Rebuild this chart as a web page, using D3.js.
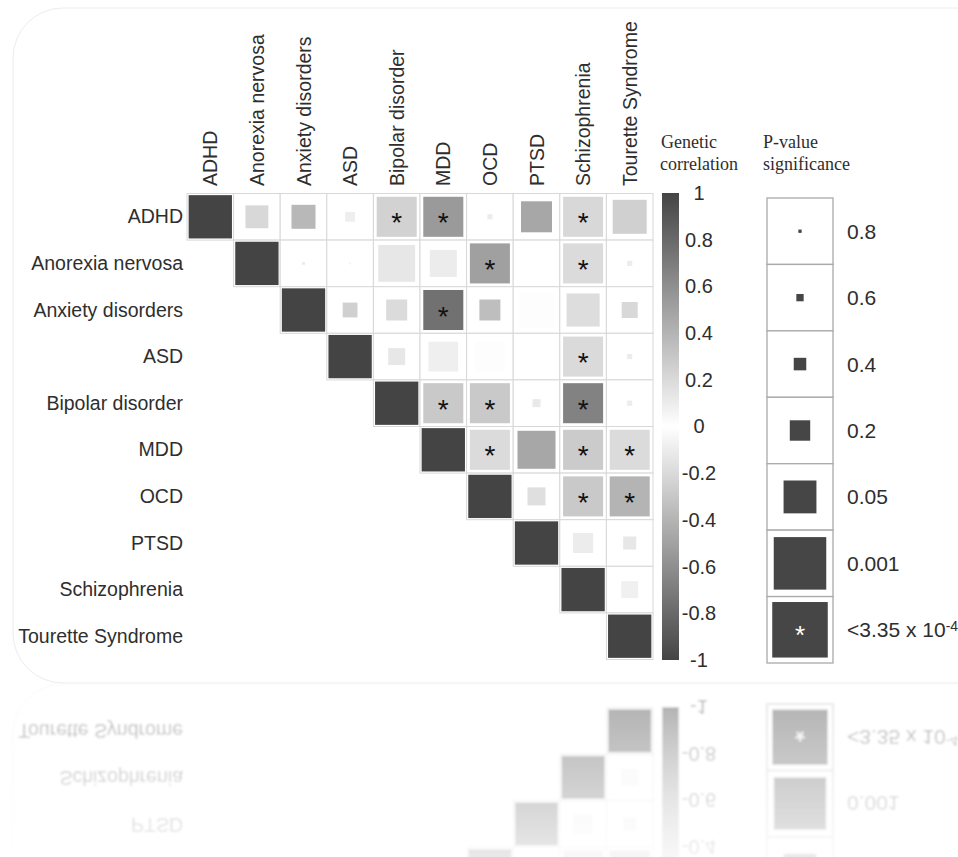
<!DOCTYPE html>
<html>
<head>
<meta charset="utf-8">
<script src="https://cdn.jsdelivr.net/npm/d3@7"></script>
<style>
  body { margin: 0; background: #fff; }
  svg { display: block; }
</style>
</head>
<body>
<div id="svg-area"></div>
<script>
var svgWidth = 958;
var svgHeight = 857;

// disorders, same order for rows and columns
var disorders = ["ADHD", "Anorexia nervosa", "Anxiety disorders", "ASD", "Bipolar disorder",
  "MDD", "OCD", "PTSD", "Schizophrenia", "Tourette Syndrome"];

// genetic correlation (upper triangle only)
var rgRows = [
  [1, 0.21, 0.38, 0.09, 0.24, 0.54, 0.10, 0.47, 0.21, 0.25],
  [null, 1, 0.10, 0.05, 0.13, 0.10, 0.51, 0.00, 0.19, 0.10],
  [null, null, 1, 0.25, 0.19, 0.76, 0.35, 0.01, 0.18, 0.21],
  [null, null, null, 1, 0.13, 0.085, 0.01, 0.00, 0.20, 0.10],
  [null, null, null, null, 1, 0.29, 0.29, 0.12, 0.67, 0.10],
  [null, null, null, null, null, 1, 0.19, 0.47, 0.28, 0.19],
  [null, null, null, null, null, null, 1, 0.17, 0.29, 0.40],
  [null, null, null, null, null, null, null, 1, 0.10, 0.13],
  [null, null, null, null, null, null, null, null, 1, 0.08],
  [null, null, null, null, null, null, null, null, null, 1]
];

// p-values of the correlations
var pRows = [
  [1e-5, 0.053, 0.043, 0.36, 2e-4, 2e-4, 0.60, 0.0086, 2e-4, 0.0034],
  [null, 1e-5, 0.75, 0.8, 0.0011, 0.023, 2e-4, 0.99, 2e-4, 0.6],
  [null, null, 1e-5, 0.19, 0.074, 2e-4, 0.074, 0.002, 0.0046, 0.16],
  [null, null, null, 1e-5, 0.14, 0.012, 0.01, 0.95, 2e-4, 0.6],
  [null, null, null, null, 1e-5, 2e-4, 2e-4, 0.44, 2e-4, 0.6],
  [null, null, null, null, null, 1e-5, 2e-4, 6.5e-4, 2e-4, 2e-4],
  [null, null, null, null, null, null, 1e-5, 0.12, 2e-4, 2e-4],
  [null, null, null, null, null, null, null, 1e-5, 0.087, 0.24],
  [null, null, null, null, null, null, null, null, 1e-5, 0.14],
  [null, null, null, null, null, null, null, null, null, 1e-5]
];

var starThreshold = 3.35e-4;

// colour bar ticks
var cbTicks = [1, 0.8, 0.6, 0.4, 0.2, 0, -0.2, -0.4, -0.6, -0.8, -1];

// p-value legend
var pLegend = [0.8, 0.6, 0.4, 0.2, 0.05, 0.001, 3.35e-4];
var pLegendLabels = ["0.8", "0.6", "0.4", "0.2", "0.05", "0.001", "<3.35 x 10"];

var textColor = "#2e2e2e";
var font = "'Liberation Sans', Arial, sans-serif";

var svg = d3.select("#svg-area").append("svg")
  .attr("width", svgWidth)
  .attr("height", svgHeight);

var defs = svg.append("defs");

// scales
var xScale = d3.scaleBand().domain(disorders).range([187, 653]);
var yScale = d3.scaleBand().domain(disorders).range([193.5, 659.5]);

var colorScale = d3.scaleLinear()
  .domain([-1, 0, 1])
  .range(["#444444", "#ffffff", "#444444"]);

// square side as a fraction of the box, from p-value
var sizeScale = d3.scalePow().exponent(0.23).domain([0, 1]).range([1, 0]);

var main = svg.append("g").attr("id", "main");

// card
main.append("rect")
  .attr("x", 13).attr("y", 8)
  .attr("width", 1000).attr("height", 675)
  .attr("rx", 50)
  .attr("fill", "#fff")
  .attr("stroke", "#ececec");

// cells
var cells = [];
rgRows.forEach(function(row, i) {
  row.forEach(function(r, j) {
    if (r === null) return;
    cells.push({ row: disorders[i], col: disorders[j], i: i, j: j, r: r, p: pRows[i][j] });
  });
});

var bw = xScale.bandwidth();

var cellG = main.append("g");

cellG.selectAll("rect.bg")
  .data(cells)
  .enter()
  .append("rect")
  .attr("class", "bg")
  .attr("x", function(d) { return xScale(d.col); })
  .attr("y", function(d) { return yScale(d.row); })
  .attr("width", bw)
  .attr("height", yScale.bandwidth())
  .attr("fill", "#fff")
  .attr("stroke", "#d8d8d8")
  .attr("stroke-width", 1);

cellG.selectAll("rect.sq")
  .data(cells)
  .enter()
  .append("rect")
  .attr("class", "sq")
  .each(function(d) {
    var s = bw * sizeScale(d.p);
    d3.select(this)
      .attr("x", xScale(d.col) + bw / 2 - s / 2)
      .attr("y", yScale(d.row) + yScale.bandwidth() / 2 - s / 2)
      .attr("width", s)
      .attr("height", s);
  })
  .attr("fill", function(d) { return colorScale(d.r); });

cellG.selectAll("text.star")
  .data(cells.filter(function(d) { return d.i !== d.j && d.p < starThreshold; }))
  .enter()
  .append("text")
  .attr("class", "star")
  .attr("x", function(d) { return xScale(d.col) + bw / 2; })
  .attr("y", function(d) { return yScale(d.row) + yScale.bandwidth() / 2; })
  .attr("dy", "0.56em")
  .attr("text-anchor", "middle")
  .style("font", "28px " + font)
  .style("fill", "#111")
  .text("*");

// row labels
main.append("g").selectAll("text")
  .data(disorders)
  .enter()
  .append("text")
  .attr("x", 183)
  .attr("y", function(d) { return yScale(d) + yScale.bandwidth() / 2 + 6.5; })
  .attr("text-anchor", "end")
  .style("font", "19.5px " + font)
  .style("fill", textColor)
  .text(function(d) { return d; });

// column labels
main.append("g").selectAll("text")
  .data(disorders)
  .enter()
  .append("text")
  .attr("transform", function(d) {
    return "translate(" + (xScale(d) + bw / 2 + 7) + ",186) rotate(-90)";
  })
  .attr("text-anchor", "start")
  .style("font", "19.5px " + font)
  .style("fill", textColor)
  .text(function(d) { return d; });

// colour bar
var cbScale = d3.scaleLinear().domain([1, -1]).range([193, 660]);

var grad = defs.append("linearGradient")
  .attr("id", "cbGrad")
  .attr("x1", 0).attr("y1", 0).attr("x2", 0).attr("y2", 1);

d3.range(1, -1.001, -0.1).forEach(function(v) {
  grad.append("stop")
    .attr("offset", (1 - v) / 2)
    .attr("stop-color", colorScale(v));
});

main.append("rect")
  .attr("x", 662).attr("y", cbScale(1))
  .attr("width", 17)
  .attr("height", cbScale(-1) - cbScale(1))
  .attr("fill", "url(#cbGrad)");

var cbAxis = d3.axisRight(cbScale)
  .tickValues(cbTicks)
  .tickSize(0)
  .tickFormat(function(d) { return String(d); });

var cbAxisG = main.append("g")
  .attr("transform", "translate(679,0)")
  .call(cbAxis);

cbAxisG.select(".domain").remove();
cbAxisG.selectAll("text")
  .attr("x", 20)
  .attr("text-anchor", "middle")
  .style("font", "20px " + font)
  .style("fill", textColor);

// legend titles
var titleFont = "18px 'Liberation Serif', 'Times New Roman', serif";
[["Genetic", 661, 148], ["correlation", 660, 170], ["P-value", 763, 148], ["significance", 763, 170]]
  .forEach(function(t) {
    main.append("text")
      .attr("x", t[1]).attr("y", t[2])
      .style("font", titleFont)
      .style("fill", textColor)
      .text(t[0]);
  });

// p-value legend
var legY = d3.scaleBand().domain(d3.range(pLegend.length)).range([198, 663]);
var legX = 767;
var legW = 66;

var legItems = main.append("g").selectAll("g")
  .data(pLegend)
  .enter()
  .append("g")
  .attr("transform", function(d, i) { return "translate(" + legX + "," + legY(i) + ")"; });

legItems.append("rect")
  .attr("width", legW)
  .attr("height", legY.bandwidth())
  .attr("fill", "#fff")
  .attr("stroke", "#aaaaaa")
  .attr("stroke-width", 1.3);

legItems.append("rect")
  .each(function(d) {
    var s = legW * sizeScale(d);
    d3.select(this)
      .attr("x", legW / 2 - s / 2)
      .attr("y", legY.bandwidth() / 2 - s / 2)
      .attr("width", s)
      .attr("height", s);
  })
  .attr("fill", "#464646");

legItems.filter(function(d) { return d <= starThreshold; })
  .append("text")
  .attr("x", legW / 2)
  .attr("y", legY.bandwidth() / 2)
  .attr("dy", "0.56em")
  .attr("text-anchor", "middle")
  .style("font", "26px " + font)
  .style("fill", "#fff")
  .text("*");

var legText = legItems.append("text")
  .attr("x", 847 - legX)
  .attr("y", legY.bandwidth() / 2)
  .attr("dy", "0.36em")
  .style("font", "21px " + font)
  .style("fill", textColor)
  .text(function(d, i) { return pLegendLabels[i]; });

legText.filter(function(d) { return d <= starThreshold; })
  .append("tspan")
  .attr("dy", "-0.45em")
  .style("font-size", "14px")
  .text("-4");

// mirrored reflection below the card
var fade = defs.append("linearGradient")
  .attr("id", "fadeGrad")
  .attr("gradientUnits", "userSpaceOnUse")
  .attr("x1", 0).attr("y1", 683).attr("x2", 0).attr("y2", 857);
fade.append("stop").attr("offset", 0).attr("stop-color", "#fff").attr("stop-opacity", 0.45);
fade.append("stop").attr("offset", 1).attr("stop-color", "#fff").attr("stop-opacity", 0.12);

defs.append("mask")
  .attr("id", "fadeMask")
  .attr("maskUnits", "userSpaceOnUse")
  .attr("x", 0).attr("y", 683).attr("width", svgWidth).attr("height", 200)
  .append("rect")
  .attr("x", 0).attr("y", 683).attr("width", svgWidth).attr("height", 200)
  .attr("fill", "url(#fadeGrad)");

defs.append("filter")
  .attr("id", "soft")
  .append("feGaussianBlur")
  .attr("stdDeviation", 0.8);

svg.append("g")
  .attr("mask", "url(#fadeMask)")
  .append("use")
  .attr("href", "#main")
  .attr("filter", "url(#soft)")
  .attr("transform", "matrix(1,0,0,-1,0,1367)");
</script>
</body>
</html>
